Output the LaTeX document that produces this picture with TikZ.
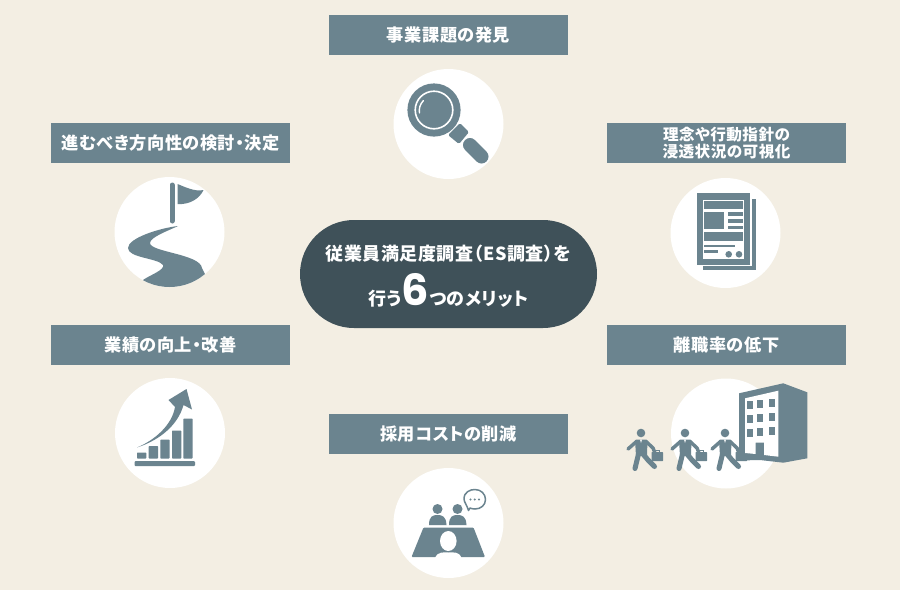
\documentclass[tikz,border=0pt]{standalone}
\usepackage{fontspec}
\setmainfont[LetterSpace=3,RawFeature=+palt]{Noto Sans CJK JP}
\newfontfamily\numfont{Poppins}[Scale=1]
\usetikzlibrary{positioning,calc}
\definecolor{cream}{HTML}{F3EEE3}
\definecolor{slate}{HTML}{6B848F}
\definecolor{pill}{HTML}{3F5159}
\tikzset{
  labelbox/.style={fill=slate, text=white, minimum width=239pt, minimum height=40pt, inner sep=0pt, align=center, font=\bfseries\fontsize{17.2}{17.5}\selectfont},
  disc/.style={circle, fill=white, minimum size=110pt, inner sep=0pt},
  stroke/.style={draw=slate, line cap=round, line join=round},
  centretext/.style={text=white, anchor=base, inner sep=0pt, font=\bfseries\fontsize{18}{18}\selectfont},
  walker/.pic={
    \fill[slate] (0,0) circle (4.3);
    \fill[slate, rounded corners=1pt] (-6,6.5) -- (6.5,6.5) -- (6,23) -- (-5,23) -- cycle;
    \draw[stroke, line width=3.5pt] (-4.5,8.5) -- (-13,16);
    \draw[stroke, line width=3.5pt] (5,8.5) -- (12,15) -- (14,20);
    \draw[stroke, line width=5pt] (-2.5,21) -- (-6,35.5);
    \draw[stroke, line width=5pt] (2,21) -- (7,27) -- (13.5,33.5);
    \fill[white] (-1,6.5) -- (1,6.5) -- (0,10) -- cycle;
    \fill[slate, rounded corners=.5pt] (10.5,19) rectangle (22,28);
    \draw[slate, line width=.7pt] (14,19) -- (14,17.5) -- (18,17.5) -- (18,19);
  }
}
\begin{document}
\begin{tikzpicture}[x=1pt,y=-1pt]
\useasboundingbox (0,0) rectangle (900,590);
\fill[cream] (0,0) rectangle (900,590);

% labels
\node[labelbox] (find) at (448.5,35) {事業課題の発見};
\node[labelbox] (plan) at (170.5,143) {進むべき方向性の検討・決定};
\node[labelbox, font=\bfseries\fontsize{15.6}{17}\selectfont] (value) at (726.5,143) {理念や行動指針の\\浸透状況の可視化};
\node[labelbox] (perf) at (170.5,345) {業績の向上・改善};
\node[labelbox] (quit) at (726.5,345) {離職率の低下};
\node[labelbox] (hire) at (448.5,434) {採用コストの削減};

% discs
\node[disc] (d-find) at (448.5,124) {};
\node[disc] (d-plan) at (169.5,232) {};
\node[disc] (d-value) at (725.5,233) {};
\node[disc] (d-perf) at (170,433) {};
\node[disc] (d-quit) at (726,433.5) {};
\node[disc] (d-hire) at (448.5,523) {};

% centre
\node[fill=pill, rounded corners=54pt, minimum width=297pt, minimum height=108pt, inner sep=0pt] (centre) at (448.5,274) {};
\node[centretext] (line-a) at (448.5,260) {従業員満足度調査（ES調査）を};
\node[centretext] (line-b) at (448.5,305) {行う{\numfont\bfseries\fontsize{43}{43}\selectfont 6}つのメリット};

% magnifier
\fill[slate] (434,110) circle (26.6);
\draw[white, line width=1.6pt] (434,110) circle (18.8);
\draw[white, line width=1.4pt, line cap=round] (419.5,113) arc (170:225:14);
\fill[slate, rounded corners=1.5pt] (448,135) -- (460,123) -- (469,132) -- (459,144) -- cycle;
\draw[stroke, line width=14pt] (470,145) -- (481.5,156.5);

% flag and road
\draw[stroke, line width=5pt] (172,185) -- (172,221);
\fill[slate] (177.5,184) .. controls (185,187) and (195,192) .. (203.5,190) .. controls (200,198) and (190,205) .. (177.5,204) -- cycle;
\begin{scope}
\clip (d-plan.center) circle (55);
\fill[slate] (178,226) .. controls (160,228) and (128,238) .. (128,248) .. controls (128,258) and (158,258) .. (163,265)
  .. controls (165,270) and (150,275) .. (143,280) -- (143,295) -- (215,295) -- (202,268) .. controls (200,254) and (150,252) .. (150,243) .. controls (150,237) and (170,230) .. (178,226) -- cycle;
\end{scope}

% chart
\fill[slate, rounded corners=1pt] (134.5,461) rectangle (195,466);
\foreach \xa/\ya in {137/452.5, 148.7/446, 160.3/439.5, 172/430.5, 183.3/418.5}
  \fill[slate, rounded corners=.7pt] (\xa,\ya) rectangle ++(9.3,458.5-\ya);
\fill[slate] (137,447.5) .. controls (155,440) and (172,425) .. (175,407) -- (168.5,400) -- (186.5,389) -- (192,409.5) -- (183.5,405) .. controls (178,425) and (160,440) .. (137,447.5) -- cycle;

% document
\fill[slate] (751.7,199.3) rectangle (755.7,270);
\fill[slate] (703.3,266) rectangle (755.7,270);
\fill[slate] (697.3,193.3) rectangle (750,265);
\fill[white] (703,199.5) rectangle (744,259);
\fill[slate] (704.3,201) rectangle (742.7,209);
\fill[slate] (704.3,212.3) rectangle (724.3,229);
\foreach \ya in {212.3, 219, 225.7}
  \fill[slate] (728.3,\ya) rectangle (742.7,\ya+3.5);
\fill[slate] (704.3,232.3) rectangle (742.7,241.3);
\fill[slate] (704.3,244.7) rectangle (735,247.3);
\fill[slate] (704.3,250) rectangle (718.3,252.7);
\fill[slate] (728.7,254.3) circle (3.3);
\fill[slate] (739,254.3) circle (3.3);

% walkers and building
\pic at (641,433) {walker};
\pic at (685,433) {walker};
\pic at (725,433) {walker};
\fill[slate] (739,393.3) -- (783.3,383.3) -- (807.3,392.3) -- (807.3,458.3) -- (783.3,462.7) -- (760,460) -- (739,460.5) -- (736.5,460.5) -- (736.5,453) -- (739,453) -- cycle;
\fill[white] (745,398.3) -- (778.3,390.7) -- (778.3,456.7) -- (764,455) -- (764,442.7) -- (755.7,442.7) -- (755.7,454) -- (745,453) -- cycle;
\foreach \xa/\sa in {747/0, 757/-.8, 768.5/-2}
  \foreach \ya in {400.5, 414.5, 428.5}
    \fill[slate] (\xa,\ya+\sa) rectangle ++(6,8);

% meeting
\fill[slate] (437.5,509) circle (5);
\fill[slate] (457.5,509) circle (5);
\fill[slate] (429,525) .. controls (429,516) and (433,515) .. (437.5,515) .. controls (442,515) and (446,516) .. (446.5,525) -- cycle;
\fill[slate] (449,525) .. controls (449,516) and (453,515) .. (457.5,515) .. controls (462,515) and (466,516) .. (466.5,525) -- cycle;
\fill[slate, rounded corners=1pt] (423.5,527.5) -- (473.5,527.5) -- (485,557) -- (411.5,557) -- cycle;
\fill[white] (448.3,541) ellipse (8.3 and 10);
\fill[white] (435,558) .. controls (438,551) and (444,552.5) .. (448.3,552.5) .. controls (453,552.5) and (459,551) .. (461.5,558) -- cycle;
\draw[slate, line width=1.5pt, fill=white, line join=round] (468.5,510.5) .. controls (467,505) and (464,502) .. (464,499) .. controls (464,492) and (470,489.5) .. (475,489.5) .. controls (481,489.5) and (485.5,494) .. (485.5,499.5) .. controls (485.5,505) and (481,509) .. (475,509) .. controls (473,509) and (471,508.5) .. (470,508) -- cycle;
\foreach \xa in {470.5,474.7,479}
  \fill[slate] (\xa,499.5) circle (1.1);
\end{tikzpicture}
\end{document}
